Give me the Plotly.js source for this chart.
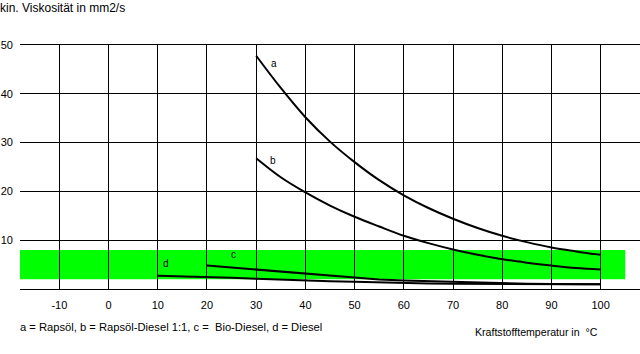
<!DOCTYPE html>
<html>
<head>
<meta charset="utf-8">
<script src="https://cdn.plot.ly/plotly-3.0.1.min.js"></script>
<style>html,body{margin:0;padding:0;background:#fff;}#chart{width:640px;height:354px;}</style>
</head>
<body>
<div id="chart"></div>
<script>
// Temperatures (°C)
var tempAB = [30, 35, 40, 45, 50, 55, 60, 65, 70, 75, 80, 85, 90, 95, 100];
var tempC = [20, 25, 30, 35, 40, 45, 50, 55, 60, 65, 70, 75, 80, 85, 90, 95, 100];
var tempD = [10, 15, 20, 25, 30, 35, 40, 45, 50, 55, 60, 65, 70, 75, 80, 85, 90, 95, 100];
// Kinematic viscosity (mm2/s)
var viscA = [47.8, 41.2, 35.2, 30.2, 26.0, 22.3, 19.2, 16.6, 14.4, 12.5, 10.9, 9.6, 8.5, 7.7, 7.0];
var viscB = [26.8, 22.9, 19.8, 17.1, 14.8, 12.8, 10.9, 9.4, 8.1, 7.0, 6.1, 5.4, 4.8, 4.3, 4.0];
var viscC = [4.8, 4.4, 4.0, 3.6, 3.2, 2.7, 2.3, 1.95, 1.75, 1.6, 1.4, 1.25, 1.2, 1.1, 1.0, 1.0, 0.95];
var viscD = [2.7, 2.6, 2.5, 2.3, 2.1, 1.9, 1.8, 1.6, 1.5, 1.35, 1.3, 1.15, 1.1, 1.05, 1.0, 0.95, 0.95, 0.95, 0.95];
// Curve labels
var curveLabels = ['a', 'b', 'c', 'd'];
var labelX = [33.6, 33.4, 25.4, 11.6];
var labelY = [46.2, 26.3, 7.0, 5.3];
// Recommended viscosity band
var bandX = [-18, 105];
var bandY = [2, 8];
// Axis ticks
var xTicks = [-10, 0, 10, 20, 30, 40, 50, 60, 70, 80, 90, 100];
var yTicks = [10, 20, 30, 40, 50];

var titleText = 'kin. Viskosität in mm2/s';
var xTitleText = 'Kraftstofftemperatur in  °C';
var legendText = 'a = Rapsöl, b = Rapsöl-Diesel 1:1, c =  Bio-Diesel, d = Diesel';

var FONT = 'Liberation Sans, Arial, sans-serif';
var lineStyle = {color: '#000', width: 2};

var traces = [
  {x: tempAB, y: viscA, mode: 'lines', line: Object.assign({shape: 'spline'}, lineStyle), name: 'a', hoverinfo: 'skip'},
  {x: tempAB, y: viscB, mode: 'lines', line: Object.assign({shape: 'spline'}, lineStyle), name: 'b', hoverinfo: 'skip'},
  {x: tempC, y: viscC, mode: 'lines', line: lineStyle, name: 'c', hoverinfo: 'skip'},
  {x: tempD, y: viscD, mode: 'lines', line: lineStyle, name: 'd', hoverinfo: 'skip'}
];

var annotations = curveLabels.map(function (t, i) {
  return {x: labelX[i], y: labelY[i], xref: 'x', yref: 'y', text: t, showarrow: false,
    font: {family: FONT, size: 10, color: '#000'}};
});
annotations.push({x: -0.003, y: -0.155, xref: 'paper', yref: 'paper', xanchor: 'left', yanchor: 'middle',
  text: legendText, showarrow: false, font: {family: FONT, size: 11.2, color: '#000'}});
annotations.push({x: 0.935, y: -0.175, xref: 'paper', yref: 'paper', xanchor: 'right', yanchor: 'middle',
  text: xTitleText, showarrow: false, font: {family: FONT, size: 10.6, color: '#000'}});

var layout = {
  width: 640, height: 354,
  margin: {l: 20, r: 0, t: 45, b: 65},
  paper_bgcolor: '#fff', plot_bgcolor: '#fff',
  showlegend: false,
  font: {family: FONT, size: 11, color: '#000'},
  title: {text: titleText, x: 0, xref: 'container', xanchor: 'left', y: 0.977, yref: 'container', yanchor: 'middle',
    font: {family: FONT, size: 12, color: '#000'}},
  xaxis: {range: [-18, 108], tickvals: xTicks, ticktext: xTicks.map(String), showgrid: true, gridcolor: '#000', gridwidth: 1,
    zeroline: false, showline: true, mirror: true, linecolor: '#000', linewidth: 1, ticks: '',
    ticklabelstandoff: 6, tickfont: {family: FONT, size: 11, color: '#000'}, fixedrange: true},
  yaxis: {range: [0, 50], tickvals: yTicks, ticktext: yTicks.map(String), showgrid: true, gridcolor: '#000', gridwidth: 1,
    zeroline: false, showline: false, ticks: '', ticklabelstandoff: 6,
    tickfont: {family: FONT, size: 11, color: '#000'}, fixedrange: true},
  shapes: [{type: 'rect', xref: 'x', yref: 'y', x0: bandX[0], x1: bandX[1], y0: bandY[0], y1: bandY[1],
    fillcolor: '#00ff00', line: {width: 0}, layer: 'below'}],
  annotations: annotations
};

Plotly.newPlot('chart', traces, layout, {displayModeBar: false, staticPlot: true});
</script>
</body>
</html>
